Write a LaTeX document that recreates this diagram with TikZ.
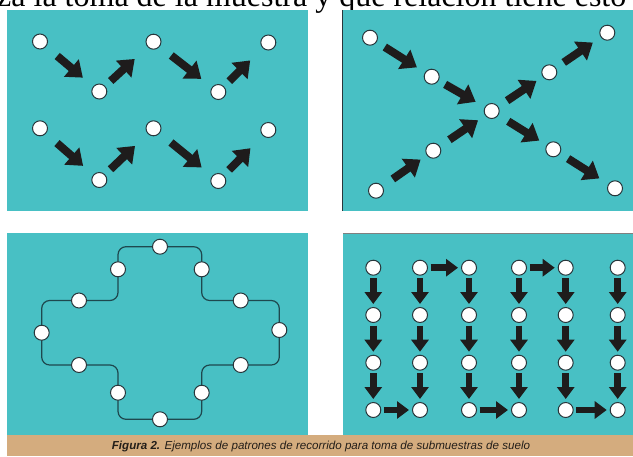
\documentclass[tikz,border=0pt]{standalone}
\usepackage{fontspec}
\setmainfont{Liberation Serif}
\newfontfamily\capfont{Liberation Sans}
\usetikzlibrary{arrows.meta}
\definecolor{panelc}{RGB}{72,192,196}
\definecolor{tanc}{RGB}{212,172,126}
\definecolor{arrowc}{RGB}{30,28,28}
\definecolor{ptline}{RGB}{40,55,60}
\definecolor{crossc}{RGB}{30,72,78}
\definecolor{capc}{RGB}{35,30,25}
\tikzset{
  pt/.style={circle, draw=ptline, fill=white, line width=1pt, minimum size=15pt, inner sep=0pt, outer sep=0pt},
  bigarrow/.style={draw=arrowc, line width=8pt, -{Triangle[length=15pt,width=22pt]}, shorten <=12pt, shorten >=12pt},
  gridarrow/.style={draw=arrowc, line width=6.5pt, -{Triangle[length=12pt,width=17pt]}, shorten <=3pt, shorten >=3.5pt},
  panel/.style={fill=panelc},
}
\begin{document}
\begin{tikzpicture}[x=1pt,y=-1pt]
\useasboundingbox (0,0) rectangle (633,456);
\fill[white] (0,0) rectangle (633,456);
% heading fragment
\node[anchor=base west, inner sep=0pt, font=\fontsize{32}{32}\selectfont] (head) at (-3,6) {za la toma de la muestra y que relación tiene esto};
% panels
\fill[panel] (7,10) rectangle (307.5,211);
\fill[panel] (342,10) rectangle (633,211);
\draw[ptline, line width=1pt] (342.5,10) -- (342.5,211);
\fill[panel] (7,233) rectangle (308,435);
\fill[panel] (343,233) rectangle (633,435);
\draw[gray, line width=1pt] (343,233.5) -- (633,233.5);
\fill[tanc] (7,435) rectangle (633,456);
\node[font=\capfont\itshape\fontsize{11.6}{12}\selectfont, text=capc, inner sep=0pt] (cap) at (321,446) {\textbf{Figura 2.} Ejemplos de patrones de recorrido para toma de submuestras de suelo};

% top-left zigzag
\node[pt] (a1) at (40,41.5) {};
\node[pt] (a2) at (99.3,91.5) {};
\node[pt] (a3) at (153.5,41.7) {};
\node[pt] (a4) at (218.3,92) {};
\node[pt] (a5) at (268.3,42.5) {};
\node[pt] (b1) at (40,128.3) {};
\node[pt] (b2) at (99.3,180) {};
\node[pt] (b3) at (153.5,128.3) {};
\node[pt] (b4) at (218.3,181) {};
\node[pt] (b5) at (268.3,130) {};
\foreach \r in {a,b}{
  \draw[bigarrow, shorten <=15pt, shorten >=14pt] (\r1) -- (\r2);
  \draw[bigarrow, shorten <=8pt, shorten >=18pt] (\r2) -- (\r3);
  \draw[bigarrow, shorten <=15pt, shorten >=14pt] (\r3) -- (\r4);
  \draw[bigarrow, shorten <=8pt, shorten >=18pt] (\r4) -- (\r5);
}

% top-right X
\node[pt] (p1) at (370,37.7) {};
\node[pt] (p2) at (431.7,76.7) {};
\node[pt] (c) at (491.7,111) {};
\node[pt] (q1) at (549.3,72.3) {};
\node[pt] (q2) at (607.3,32.7) {};
\node[pt] (r1) at (553.3,149.3) {};
\node[pt] (r2) at (615,188.3) {};
\node[pt] (s1) at (433.3,150.7) {};
\node[pt] (s2) at (376,190.7) {};
\draw[bigarrow, shorten <=10pt, shorten >=10pt] (p1) -- (p2);
\draw[bigarrow, shorten <=8pt, shorten >=11pt] (p2) -- (c);
\draw[bigarrow, shorten <=11pt, shorten >=8pt] (c) -- (q1);
\draw[bigarrow, shorten <=10pt, shorten >=10pt] (q1) -- (q2);
\draw[bigarrow, shorten <=12pt, shorten >=9pt] (c) -- (r1);
\draw[bigarrow, shorten <=10pt, shorten >=11pt] (r1) -- (r2);
\draw[bigarrow, shorten <=13pt, shorten >=8pt] (s2) -- (s1);
\draw[bigarrow, shorten <=12pt, shorten >=9pt] (s1) -- (c);

% bottom-left cross path
\draw[crossc, line width=1.2pt, rounded corners=8pt]
  (118,246.7) -- (201.7,246.7) -- (201.7,300.5) -- (279.3,300.5) -- (279.3,365)
  -- (201.7,365) -- (201.7,419.3) -- (118,419.3) -- (118,365) -- (41.7,365)
  -- (41.7,300.5) -- (118,300.5) -- cycle;
\node[pt] (k1) at (160,246.7) {};
\node[pt] (k2) at (201.7,269.3) {};
\node[pt] (k3) at (240.7,300.5) {};
\node[pt] (k4) at (279.3,330) {};
\node[pt] (k5) at (240.7,365) {};
\node[pt] (k6) at (201.7,392.7) {};
\node[pt] (k7) at (160,419.3) {};
\node[pt] (k8) at (118,392.7) {};
\node[pt] (k9) at (79,365) {};
\node[pt] (k10) at (41.7,332.7) {};
\node[pt] (k11) at (79,300.5) {};
\node[pt] (k12) at (118,269.3) {};

% bottom-right grid
\foreach \i/\x in {1/373.3,2/420,3/469,4/519,5/565.7,6/617.7}{
  \foreach \j/\y in {1/267.7,2/315,3/362.7,4/410}{
    \node[pt] (g\i\j) at (\x,\y) {};
  }
  \draw[gridarrow] (g\i1) -- (g\i2);
  \draw[gridarrow] (g\i2) -- (g\i3);
  \draw[gridarrow] (g\i3) -- (g\i4);
}
\draw[gridarrow] (g21) -- (g31);
\draw[gridarrow] (g41) -- (g51);
\draw[gridarrow] (g14) -- (g24);
\draw[gridarrow] (g34) -- (g44);
\draw[gridarrow] (g54) -- (g64);
\end{tikzpicture}
\end{document}
